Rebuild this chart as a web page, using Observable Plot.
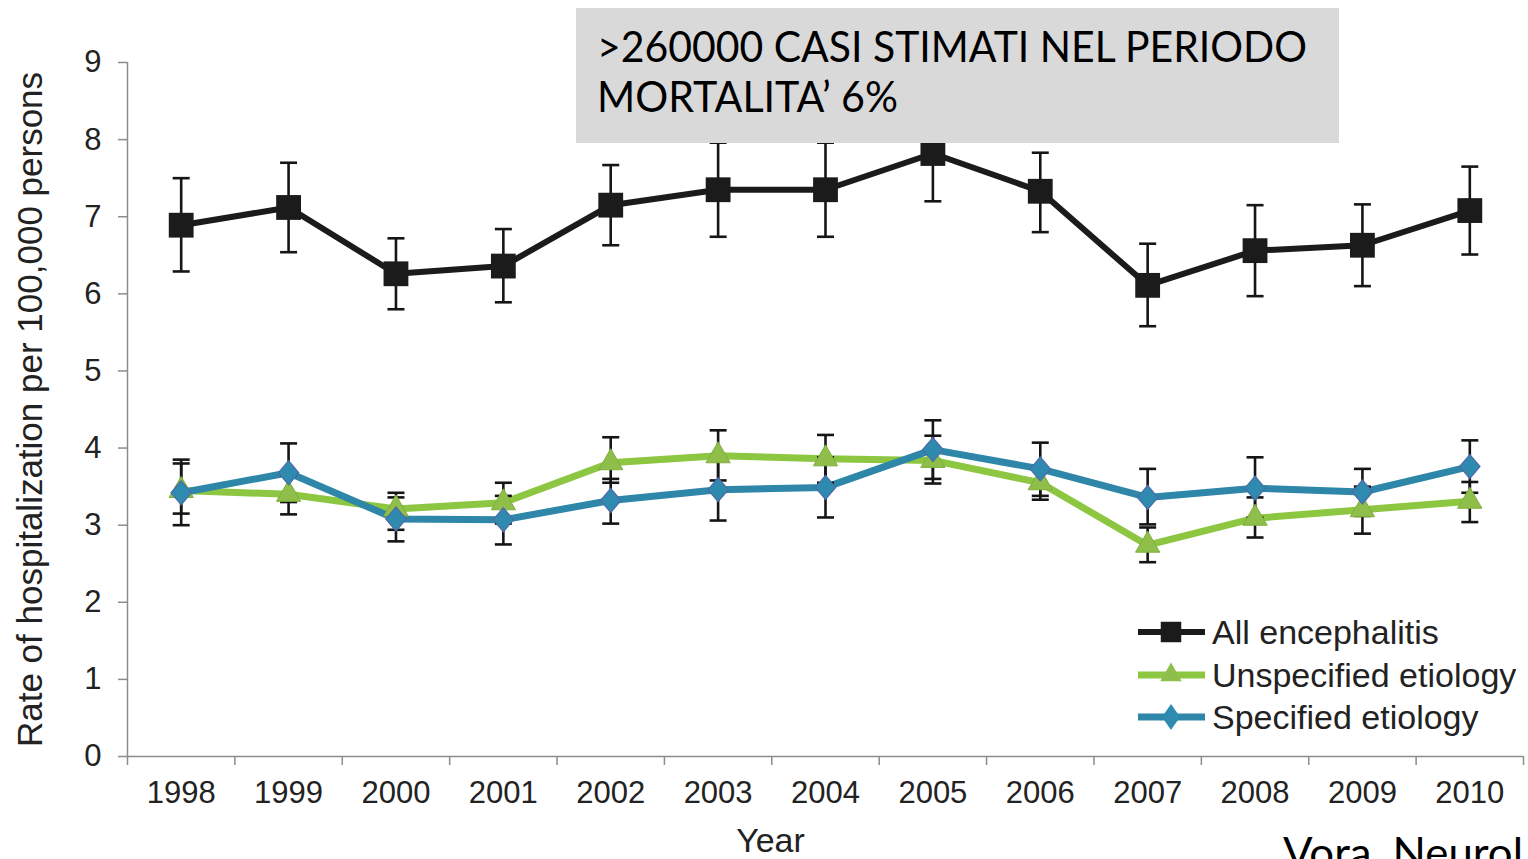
<!DOCTYPE html>
<html>
<head>
<meta charset="utf-8">
<script src="https://cdn.jsdelivr.net/npm/d3@7"></script>
<script src="https://cdn.jsdelivr.net/npm/@observablehq/plot@0.6"></script>
<style>
  html, body { margin: 0; padding: 0; background: #fff; overflow: hidden; }
  #chart svg { display: block; }
</style>
</head>
<body>
<div id="chart"></div>
<script>
// Hospitalization rate per 100,000 persons, by year, with 95% CI bounds
const years = [1998, 1999, 2000, 2001, 2002, 2003, 2004, 2005, 2006, 2007, 2008, 2009, 2010];

const allRate = [6.89, 7.12, 6.26, 6.36, 7.15, 7.35, 7.35, 7.82, 7.33, 6.11, 6.56, 6.63, 7.08];
const allLow  = [6.29, 6.54, 5.80, 5.89, 6.63, 6.74, 6.74, 7.20, 6.80, 5.58, 5.97, 6.10, 6.51];
const allHigh = [7.50, 7.70, 6.72, 6.84, 7.67, 7.96, 7.96, 8.44, 7.83, 6.65, 7.15, 7.16, 7.65];

const unspecRate = [3.45, 3.40, 3.21, 3.29, 3.81, 3.90, 3.86, 3.84, 3.55, 2.74, 3.09, 3.20, 3.31];
const unspecLow  = [3.15, 3.14, 2.94, 3.02, 3.55, 3.58, 3.55, 3.54, 3.33, 2.52, 2.84, 2.89, 3.04];
const unspecHigh = [3.80, 3.65, 3.42, 3.55, 4.14, 4.23, 4.17, 4.16, 3.75, 2.97, 3.36, 3.50, 3.56];

const specRate = [3.42, 3.68, 3.08, 3.07, 3.32, 3.46, 3.49, 3.98, 3.73, 3.36, 3.48, 3.43, 3.76];
const specLow  = [3.00, 3.30, 2.79, 2.75, 3.02, 3.06, 3.10, 3.60, 3.38, 3.01, 3.10, 3.12, 3.42];
const specHigh = [3.85, 4.06, 3.36, 3.38, 3.60, 3.85, 3.88, 4.36, 4.07, 3.73, 3.88, 3.73, 4.10];

const seriesNames  = ["All encephalitis", "Unspecified etiology", "Specified etiology"];
const seriesColors = ["#1b1b1b", "#8dc641", "#2e86a8"];
const yTicks = [0, 1, 2, 3, 4, 5, 6, 7, 8, 9];
const yLabel = "Rate of hospitalization per 100,000 persons";
const xLabel = "Year";
const noteLines = [">260000 CASI STIMATI NEL PERIODO", "MORTALITA\u2019 6%"];
const sourceText = "Vora, Neurol";

// tidy rows per series
const toRows = (name, rate, low, high) =>
  years.map((year, i) => ({series: name, year, rate: rate[i], low: low[i], high: high[i]}));
const allRows    = toRows(seriesNames[0], allRate, allLow, allHigh);
const unspecRows = toRows(seriesNames[1], unspecRate, unspecLow, unspecHigh);
const specRows   = toRows(seriesNames[2], specRate, specLow, specHigh);

// category boundaries for the x-axis tick marks
const xDomain = [d3.min(years) - 0.5, d3.max(years) + 0.5];
const boundaries = d3.range(years.length + 1).map(i => xDomain[0] + i);

// custom symbols: error-bar cap and a squat diamond
const capSymbol = {
  draw(ctx, size) {
    const r = Math.sqrt(size / Math.PI);
    ctx.moveTo(-r, 0); ctx.lineTo(r, 0);
  }
};
const diamondSymbol = {
  draw(ctx, size) {
    const r = Math.sqrt(size / Math.PI), w = r * 0.85;
    ctx.moveTo(0, -r); ctx.lineTo(w, 0); ctx.lineTo(0, r); ctx.lineTo(-w, 0); ctx.closePath();
  }
};

const barColor = "#151515";
const errorBars = rows => [
  Plot.ruleX(rows, {x: "year", y1: "low", y2: "high", stroke: barColor, strokeWidth: 2.6}),
  Plot.dot(rows, {x: "year", y: "low", symbol: capSymbol, r: 8.5, stroke: barColor, strokeWidth: 2.6, fill: "none"}),
  Plot.dot(rows, {x: "year", y: "high", symbol: capSymbol, r: 8.5, stroke: barColor, strokeWidth: 2.6, fill: "none"})
];

const axisGray = "#8c8c8c";
const textColor = "#222";

const chart = Plot.plot({
  width: 1528,
  height: 859,
  marginTop: 62,
  marginBottom: 103,
  marginLeft: 127,
  marginRight: 5,
  style: {fontFamily: "'Liberation Sans', Arial, sans-serif", background: "#fff", color: textColor},
  x: {domain: xDomain, label: null},
  y: {domain: [0, 9], label: null},
  marks: [
    // axes
    Plot.axisY(yTicks, {tickSize: 9, tickPadding: 17, fontSize: 31, stroke: axisGray, strokeWidth: 1.5, fill: textColor, label: null, tickFormat: d => String(d)}),
    Plot.axisX(years, {tickSize: 0, tickPadding: 24, fontSize: 31, fill: textColor, label: null, tickFormat: d => String(d)}),
    Plot.axisX(boundaries, {tickSize: 9, stroke: axisGray, strokeWidth: 1.5, label: null, tickFormat: () => ""}),
    Plot.ruleX([xDomain[0]], {stroke: axisGray, strokeWidth: 1.5}),
    Plot.ruleY([0], {stroke: axisGray, strokeWidth: 1.5}),
    Plot.text([yLabel], {frameAnchor: "left", dx: -97, rotate: -90, fontSize: 35, fill: textColor, textAnchor: "middle", lineAnchor: "middle"}),
    Plot.text([xLabel], {frameAnchor: "bottom", dx: -55, dy: 85, fontSize: 34, fill: textColor, lineAnchor: "middle"}),

    // all encephalitis
    ...errorBars(allRows),
    Plot.line(allRows, {x: "year", y: "rate", stroke: seriesColors[0], strokeWidth: 6, strokeLinejoin: "round"}),
    Plot.dot(allRows, {x: "year", y: "rate", symbol: "square", r: 14, fill: seriesColors[0], stroke: "none"}),

    // etiology breakdown
    Plot.line(unspecRows, {x: "year", y: "rate", stroke: seriesColors[1], strokeWidth: 7, strokeLinejoin: "round"}),
    Plot.line(specRows, {x: "year", y: "rate", stroke: seriesColors[2], strokeWidth: 7, strokeLinejoin: "round"}),
    ...errorBars(unspecRows),
    ...errorBars(specRows),
    Plot.dot(unspecRows, {x: "year", y: "rate", symbol: "triangle", r: 9, fill: "#8fbf4a", stroke: "#7fae3e", strokeWidth: 1}),
    Plot.dot(specRows, {x: "year", y: "rate", symbol: diamondSymbol, r: 12, fill: "#2f8ab0", stroke: "#4f6aa6", strokeWidth: 1.2})
  ]
});

document.getElementById("chart").appendChild(chart);

// legend, bottom right of the plot area
const svg = d3.select(chart);
const legend = svg.append("g")
  .attr("font-family", "'Liberation Sans', Arial, sans-serif")
  .attr("text-anchor", "start");
const legendY = [632, 675, 717];
const legendMarks = [
  d3.symbol(d3.symbolSquare, 420)(),
  d3.symbol(d3.symbolTriangle, 200)(),
  "M0,-13L9,0L0,13L-9,0Z"
];
const legendFills = [seriesColors[0], "#8fbf4a", "#2f8ab0"];
seriesNames.forEach((name, i) => {
  const row = legend.append("g").attr("transform", `translate(0,${legendY[i]})`);
  row.append("line").attr("x1", 1138).attr("x2", 1205).attr("stroke", seriesColors[i]).attr("stroke-width", i === 0 ? 6 : 7);
  row.append("path").attr("d", legendMarks[i]).attr("transform", "translate(1171,0)").attr("fill", legendFills[i]);
  row.append("text").attr("x", 1212).attr("dy", "0.35em").attr("font-size", 34).attr("fill", textColor).text(name);
});

// annotation box
const note = svg.append("g")
  .attr("font-family", "Lato, 'Open Sans', sans-serif")
  .attr("text-anchor", "start");
note.append("rect").attr("x", 576).attr("y", 8).attr("width", 763).attr("height", 135).attr("fill", "#d9d9d9");
note.append("text").attr("x", 597).attr("y", 62).attr("font-size", 42).attr("fill", "#000")
  .attr("textLength", 710).attr("lengthAdjust", "spacingAndGlyphs").text(noteLines[0]);
note.append("text").attr("x", 597).attr("y", 112).attr("font-size", 42).attr("fill", "#000")
  .attr("textLength", 301).attr("lengthAdjust", "spacingAndGlyphs").text(noteLines[1]);

// source
svg.append("text").attr("x", 1283).attr("y", 868).attr("font-size", 42).attr("fill", "#000")
  .attr("font-family", "Lato, 'Open Sans', sans-serif").attr("text-anchor", "start")
  .attr("textLength", 240).attr("lengthAdjust", "spacingAndGlyphs").text(sourceText);
</script>
</body>
</html>
